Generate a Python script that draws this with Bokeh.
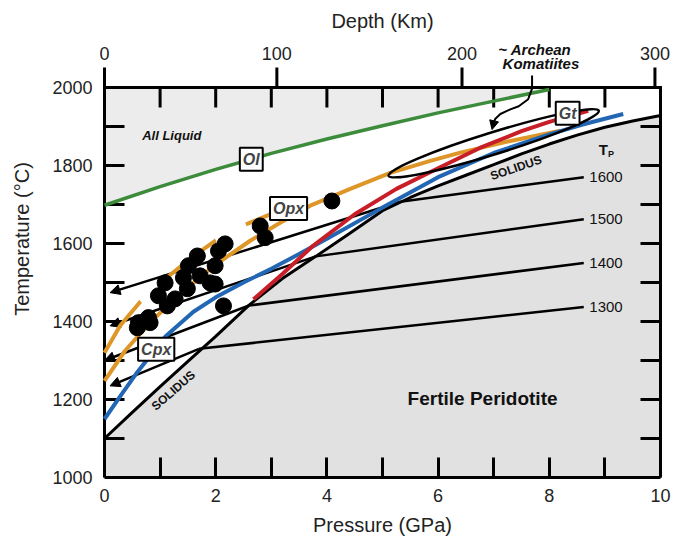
import numpy as np
from bokeh.plotting import figure
from bokeh.models import (Range1d, LinearAxis, FixedTicker, Label, Arrow, NormalHead,
                          ColumnDataSource)
from bokeh.embed import file_html
from bokeh.resources import INLINE
from bokeh.core.properties import value

# ---------------- data ----------------
ol_p = [0, 1, 2, 3, 4, 5, 6, 7, 8]
ol_t = [1698, 1746, 1790, 1831, 1868, 1902, 1935, 1965, 1995]

sol_p = [0, 0.5, 1.0, 1.5, 2.0, 2.6, 3.2, 3.8, 4.4, 5.0, 5.5, 6.0, 6.5, 7.0, 7.5, 8.0, 8.5, 9.0, 9.5, 10]
sol_t = [1100, 1167, 1233, 1298, 1362, 1442, 1510, 1567, 1625, 1684, 1718, 1748, 1775, 1802, 1830, 1855, 1878, 1898, 1914, 1928]

cpx_p = [0, 0.3, 0.6, 1.1, 1.6, 2.0, 2.5, 3.0, 3.5, 4.0, 5.0, 6.0, 7.0, 8.0, 8.6, 9.33]
cpx_t = [1150, 1212, 1272, 1362, 1425, 1462, 1500, 1535, 1573, 1612, 1692, 1770, 1832, 1880, 1905, 1932]

gt_p = [2.68, 3.2, 3.75, 4.5, 5.25, 6.0, 6.75, 7.5, 8.0, 8.7]
gt_t = [1457, 1522, 1594, 1675, 1740, 1793, 1845, 1888, 1912, 1940]

opx_p = [0, 0.37, 0.82, 1.36, 1.99, 2.62, 3.16, 3.70, 4.42, 5.14, 5.86, 6.40, 7.30, 8.20]
opx_t = [1248, 1325, 1397, 1471, 1545, 1607, 1653, 1697, 1740, 1781, 1812, 1833, 1863, 1889]

opx2_p = [0, 0.28, 0.64, 1.09, 1.54, 1.99, 2.53, 3.0]
opx2_t = [1320, 1389, 1450, 1509, 1561, 1607, 1648, 1676]

tp_labels = ["1600", "1500", "1400", "1300"]
tp_p_right = [8.62, 8.62, 8.62, 8.62]
tp_t_right = [1770, 1662, 1550, 1437]
tp_p_sol = [5.32, 3.8, 2.6, 1.7]
tp_t_sol = [1707, 1567, 1441, 1330]
tp_p_left = [0.1, 0.1, 0.0, 0.1]
tp_t_left = [1474, 1389, 1300, 1235]

pts_p = [2.80, 2.89, 2.17, 2.05, 1.67, 1.51, 1.99, 1.90, 1.72, 1.42, 1.49, 1.09, 0.97, 1.27,
         1.13, 0.79, 0.61, 0.59, 0.82, 2.14, 1.99, 4.09]
pts_t = [1645, 1615, 1599, 1581, 1568, 1543, 1543, 1499, 1517, 1512, 1484, 1499, 1466, 1458,
         1440, 1410, 1397, 1384, 1397, 1440, 1496, 1709]

# axes
p_ticks = [0, 2, 4, 6, 8, 10]
p_minor = [1, 3, 5, 7, 9]
p_inner = [1, 2, 3, 4, 5, 6, 7, 8, 9]
t_ticks = [1000, 1200, 1400, 1600, 1800, 2000]
t_inner = [1100, 1200, 1300, 1400, 1500, 1600, 1700, 1800, 1900]
box_p = [0, 0, 10, 10]
box_t = [1000, 2000, 2000, 1000]
depth_pos = [0, 3.1, 6.43, 9.9]
depth_lbl = ["0", "100", "200", "300"]

# pointer from the komatiite label to its field
ptr_p = [7.69, 7.69, 7.62, 7.45, 7.30, 7.12, 7.03, 7.00]
ptr_t = [2031, 1997, 1970, 1952, 1944, 1932, 1920, 1910]

# ---------------- figure ----------------
FONT = "Liberation Sans"
GREEN, BLUE, RED, ORANGE = "#3c8c3c", "#2266b4", "#c81e28", "#de9628"
PXT = 0.39                     # pixels per degree C
PXP = 55.6                     # pixels per GPa
EDGE = 12                      # frame margin (px) left and right of the box
T_TOP = 2000 + 87 / PXT        # frame reaches the top of the canvas
TICK_T = 20 / PXT
TICK_P = 20 / PXP

p = figure(frame_width=556 + 2 * EDGE, frame_height=477,
           x_range=Range1d(-EDGE / PXP, 10 + EDGE / PXP), y_range=Range1d(1000, T_TOP),
           x_axis_type=None, y_axis_type=None,
           output_backend="svg", toolbar_location=None,
           min_border_left=104 - EDGE, min_border_right=0, min_border_top=0, min_border_bottom=62,
           background_fill_color="white", border_fill_color="white")
p.grid.visible = False
p.outline_line_color = None

bottom = LinearAxis(ticker=FixedTicker(ticks=p_ticks, minor_ticks=p_minor), bounds=(0, 10),
                    axis_label="Pressure (GPa)",
                    major_tick_in=20, major_tick_out=0, minor_tick_in=20, minor_tick_out=0,
                    major_label_standoff=11, axis_label_standoff=9)
left = LinearAxis(ticker=FixedTicker(ticks=t_ticks), axis_label="Temperature (°C)",
                  axis_line_color=None, major_tick_in=0, major_tick_out=0,
                  minor_tick_in=0, minor_tick_out=0,
                  major_label_standoff=0, axis_label_standoff=16)
for ax in (bottom, left):
    ax.axis_line_width = 3
    ax.major_tick_line_width = 3
    ax.minor_tick_line_width = 3
    ax.major_label_text_font = FONT
    ax.major_label_text_font_size = "18px"
    ax.major_label_text_color = "#222222"
    ax.axis_label_text_font = FONT
    ax.axis_label_text_font_size = "20px"
    ax.axis_label_text_font_style = "normal"
    ax.axis_label_text_color = "#222222"
p.add_layout(bottom, "below")
p.add_layout(left, "left")

# ---------------- fields ----------------
liq = p.varea(x=ol_p, y1=ol_t, y2=2000, fill_color="#ececec")
liq.level = "image"
sub = p.varea(x=sol_p, y1=1000, y2=sol_t, fill_color="#e1e1e1")
sub.level = "image"

# box edges, inner ticks and depth scale
p.line(box_p, box_t, line_color="black", line_width=3, line_join="miter")
p.segment(x0=[0] * len(t_inner), y0=t_inner, x1=[TICK_P] * len(t_inner), y1=t_inner,
          line_color="black", line_width=3)
p.segment(x0=[10] * len(t_inner), y0=t_inner, x1=[10 - TICK_P] * len(t_inner), y1=t_inner,
          line_color="black", line_width=3)
p.segment(x0=p_inner, y0=[2000] * len(p_inner), x1=p_inner, y1=[2000 - TICK_T] * len(p_inner),
          line_color="black", line_width=3)
p.segment(x0=depth_pos, y0=[2000] * 4, x1=depth_pos, y1=[2000 + TICK_T] * 4,
          line_color="black", line_width=3)
p.text(x=depth_pos, y=[2000 + 34.5 / PXT] * 4, text=depth_lbl, text_font=value(FONT),
       text_font_size="18px", text_align="center", text_baseline="middle", text_color="#222222")
p.text(x=[5.0], y=[2000 + 67 / PXT], text=["Depth (Km)"], text_font=value(FONT),
       text_font_size="20px", text_align="center", text_baseline="middle", text_color="#222222")

# adiabats
p.segment(x0=tp_p_sol, y0=tp_t_sol, x1=tp_p_right, y1=tp_t_right,
          line_color="black", line_width=2.5)
arr_src = ColumnDataSource(dict(x0=tp_p_sol, y0=tp_t_sol, x1=tp_p_left, y1=tp_t_left))
p.add_layout(Arrow(source=arr_src, x_start="x0", y_start="y0", x_end="x1", y_end="y1",
                   line_color="black", line_width=2.5, level="underlay",
                   end=NormalHead(size=10, fill_color="black", line_color="black")))

p.line(sol_p, sol_t, line_color="black", line_width=3)

p.line(ol_p, ol_t, line_color=GREEN, line_width=3.5)
p.line(opx2_p, opx2_t, line_color=ORANGE, line_width=4, line_dash="63 34")
p.line(opx_p, opx_t, line_color=ORANGE, line_width=4)
p.line(cpx_p, cpx_t, line_color=BLUE, line_width=4)
p.line(gt_p, gt_t, line_color=RED, line_width=4)

p.ellipse(x=[7.0], y=[1857], width=[220], height=[22], angle=[0.30],
          width_units="screen", height_units="screen",
          fill_color=None, line_color="black", line_width=2.5)

p.scatter(pts_p, pts_t, size=16, fill_color="black", line_color="black")

# komatiite label and pointer
p.text(x=[7.74, 7.85], y=[2097, 2062], text=["~ Archean", "Komatiites"], text_font=value(FONT),
       text_font_size="15px", text_font_style="bold italic", text_align="center",
       text_baseline="middle", text_color="#111111")
p.line(ptr_p, ptr_t, line_color="black", line_width=2)
p.add_layout(Arrow(x_start=ptr_p[-1], y_start=ptr_t[-1], x_end=6.97, y_end=1892,
                   line_color="black", line_width=2,
                   end=NormalHead(size=9, fill_color="black", line_color="black")))

# ---------------- labels ----------------
def boxed(x, y, txt):
    p.add_layout(Label(x=x, y=y, text=txt, text_font=FONT, text_font_size="16px",
                       text_font_style="bold italic", text_align="center",
                       text_baseline="middle", background_fill_color="white",
                       border_line_color="black", border_line_width=2, padding=3))


boxed(2.64, 1816, "Ol")
boxed(3.31, 1690, "Opx")
boxed(0.93, 1329, "Cpx")
boxed(8.33, 1934, "Gt")


def txt(x, y, t, size="13px", style="bold", angle=0.0, align="center"):
    p.text(x=[x], y=[y], text=[t], text_font=value(FONT), text_font_size=size,
           text_font_style=style, text_align=align, text_baseline="middle",
           angle=angle, text_color="#111111")


txt(1.21, 1876, "All Liquid", size="13px", style="bold italic")
txt(6.8, 1202, "Fertile Peridotite", size="19px", style="bold")
txt(1.24, 1223, "SOLIDUS", size="12px", style="bold", angle=0.72)
txt(7.40, 1794, "SOLIDUS", size="12px", style="bold", angle=0.33)
txt(8.97, 1842, "T", size="15px", style="bold")
txt(9.11, 1830, "P", size="9px", style="bold")
for lab, tt in zip(tp_labels, tp_t_right):
    txt(8.72, tt, lab, size="15px", style="normal", align="left")

open("out.html", "w").write(file_html(p, INLINE))
